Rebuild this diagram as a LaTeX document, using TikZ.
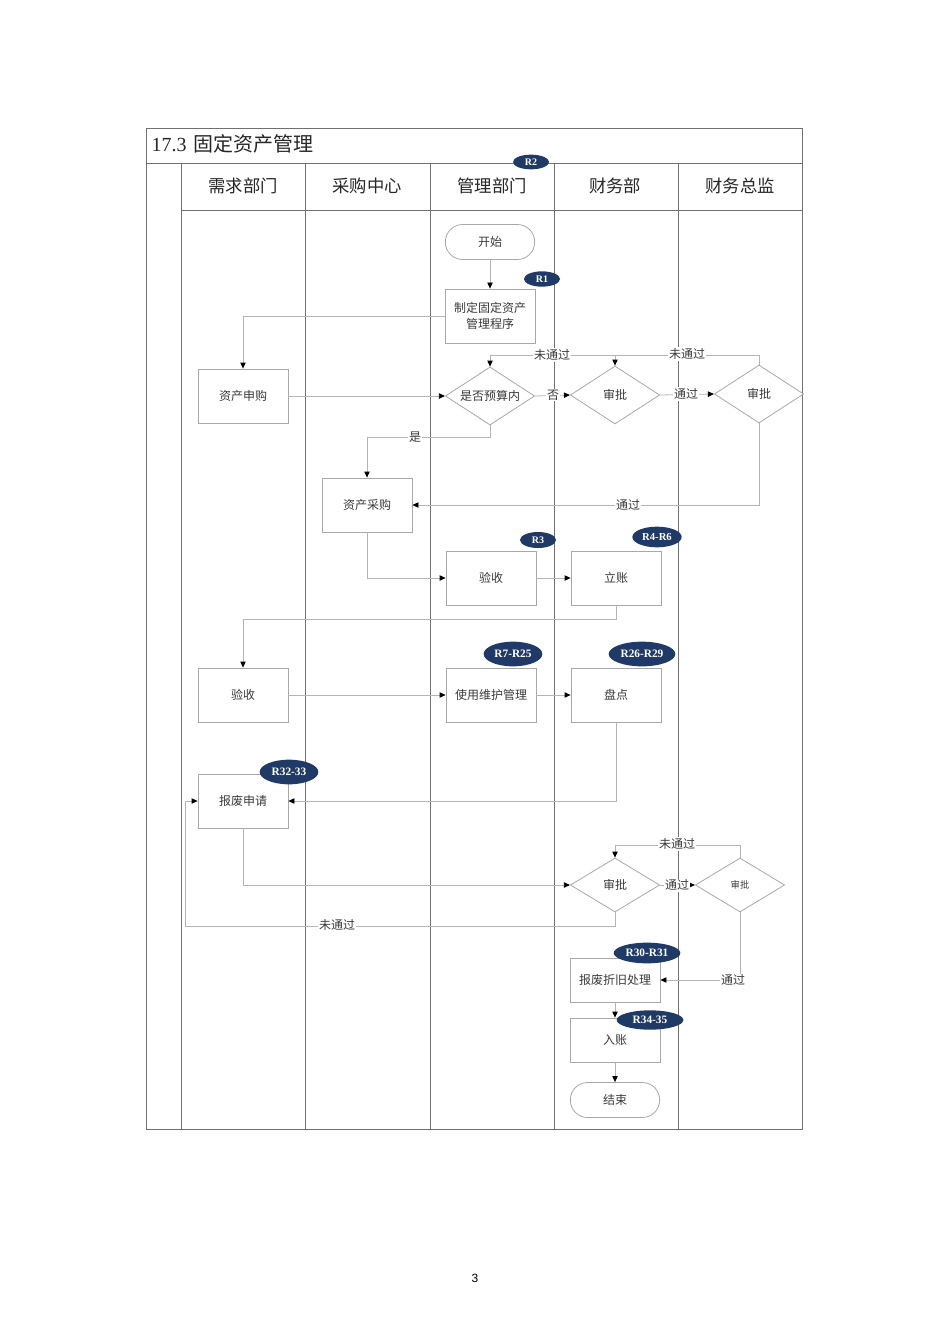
\documentclass[tikz,border=0pt]{standalone}
\usepackage{fontspec}
\setmainfont{Liberation Serif}
\setsansfont{Liberation Sans}
\newfontfamily\cjk{Noto Sans CJK SC}
\usetikzlibrary{shapes.geometric,arrows.meta,calc}
\definecolor{boxc}{HTML}{A8A8A8}
\definecolor{linec}{HTML}{B4B4B4}
\definecolor{lanec}{HTML}{707070}
\definecolor{txtc}{HTML}{3A3A3A}
\definecolor{navy}{HTML}{1F3A66}
\begin{document}
\begin{tikzpicture}[x=0.75pt,y=-0.75pt,
  box/.style={draw=boxc, line width=0.6pt, minimum width=67.5pt, minimum height=40.5pt, inner sep=1pt, font=\cjk\fontsize{9}{12}\selectfont, text=txtc, align=center},
  sbox/.style={box, minimum height=33pt},
  dia/.style={diamond, aspect=1.55, draw=boxc, line width=0.6pt, minimum width=67pt, minimum height=43.5pt, inner sep=0pt, font=\cjk\fontsize{9}{11}\selectfont, text=txtc},
  term/.style={draw=boxc, line width=0.6pt, rounded corners=13pt, minimum width=67pt, minimum height=26.25pt, font=\cjk\fontsize{9}{11}\selectfont, text=txtc},
  badge/.style={ellipse, fill=navy, text=white, inner sep=0pt, font=\bfseries\fontsize{8.5}{9}\selectfont},
  sbadge/.style={badge, font=\bfseries\fontsize{7.5}{8}\selectfont},
  conn/.style={draw=linec, line width=0.6pt},
  arr/.style={conn, -{Triangle[length=4.5pt,width=4pt,color=black]}},
  lbl/.style={fill=white, inner sep=0.8pt, font=\cjk\fontsize{9}{11}\selectfont, text=txtc},
  hdr/.style={font=\cjk\fontsize{13}{15}\selectfont, text=black!85},
  lane/.style={draw=lanec, line width=0.6pt}
]
\useasboundingbox (0,0) rectangle (950,1344);
\fill[white] (0,0) rectangle (950,1344);

% frame and lanes
\draw[lane] (146,128) rectangle (802,1129);
\draw[lane] (146,163) -- (802,163);
\draw[lane] (181,210) -- (802,210);
\foreach \x in {181,305,430,554,678} { \draw[lane] (\x,163) -- (\x,1129); }

\node[anchor=west, font=\fontsize{15}{18}\selectfont, text=black!85] (title) at (147,144) {17.3\,\,{\cjk 固定资产管理}};
\node[hdr] (h1) at (243,186) {需求部门};
\node[hdr] (h2) at (367,186) {采购中心};
\node[hdr] (h3) at (492,186) {管理部门};
\node[hdr] (h4) at (615,186) {财务部};
\node[hdr] (h5) at (740,186) {财务总监};

% nodes
\node[term] (ks) at (490,242) {开始};
\node[box] (zd) at (490,316) {制定固定资产\\管理程序};
\node[box] (sg) at (243,396) {资产申购};
\node[dia] (ys) at (490,396) {是否预算内};
\node[dia] (sp1) at (615,395) {审批};
\node[dia] (sp2) at (759,394) {审批};
\node[box] (cg) at (367,505) {资产采购};
\node[box] (ysb) at (491,578) {验收};
\node[box] (lz) at (616,578) {立账};
\node[box] (ysa) at (243,695) {验收};
\node[box] (sy) at (491,695) {使用维护管理};
\node[box] (pd) at (616,695) {盘点};
\node[box] (bf) at (243,801) {报废申请};
\node[dia, minimum height=40.5pt] (sp3) at (615,885) {审批};
\node[dia, minimum height=40.5pt, font=\cjk\fontsize{7}{8}\selectfont] (sp4) at (740,885) {审批};
\node[sbox] (zj) at (615,980) {报废折旧处理};
\node[sbox] (rz) at (615,1040) {入账};
\node[term] (js) at (615,1100) {结束};

% connectors
\draw[arr] (ks) -- (zd);
\draw[arr] (zd.west) -| (sg.north);
\draw[arr] (sg.east) -- (ys.west);
\draw[arr] (ys.east) -- (sp1.west);
\draw[arr] (sp1.east) -- (sp2.west);
\coordinate (n1) at (615,355);
\draw[arr] (sp2.north) |- (n1) -- (sp1.north);
\draw[arr] (n1) -| (ys.north);
\coordinate (c7) at (490,437);
\draw[arr] (ys.south) -- (c7) -| (cg.north);
\draw[arr] (sp2.south) |- (cg.east);
\draw[arr] (cg.south) |- (ysb.west);
\draw[arr] (ysb.east) -- (lz.west);
\coordinate (c11) at (616,619);
\draw[arr] (lz.south) -- (c11) -| (ysa.north);
\draw[arr] (ysa.east) -- (sy.west);
\draw[arr] (sy.east) -- (pd.west);
\draw[arr] (pd.south) |- (bf.east);
\draw[arr] (bf.south) |- (sp3.west);
\draw[arr] (sp3.east) -- (sp4.west);
\coordinate (n3) at (615,845);
\draw[arr] (sp4.north) |- (n3) -- (sp3.north);
\coordinate (c18a) at (615,926);
\coordinate (c18b) at (185,926);
\draw[arr] (sp3.south) -- (c18a) -- (c18b) |- (bf.west);
\draw[arr] (sp4.south) |- (zj.east);
\draw[arr] (zj) -- (rz);
\draw[arr] (rz) -- (js);

% labels
\node[lbl] (l1) at (552,355) {未通过};
\node[lbl] (l2) at (687,354) {未通过};
\node[lbl] (l3) at (553,395) {否};
\node[lbl] (l4) at (686,394) {通过};
\node[lbl] (l5) at (415,437) {是};
\node[lbl] (l6) at (628,505) {通过};
\node[lbl] (l7) at (677,885) {通过};
\node[lbl] (l8) at (677,844) {未通过};
\node[lbl] (l9) at (337,925) {未通过};
\node[lbl] (l10) at (733,980) {通过};

% badges
\node[sbadge, minimum width=27pt, minimum height=11pt] (b2) at (531,162) {R2};
\node[sbadge, minimum width=27pt, minimum height=11.5pt] (b1) at (542,279) {R1};
\node[sbadge, minimum width=27pt, minimum height=12pt] (b3) at (538,540) {R3};
\node[badge, minimum width=37pt, minimum height=15.5pt, font=\bfseries\fontsize{8}{9}\selectfont] (b4) at (657,537) {R4-R6};
\node[badge, minimum width=44pt, minimum height=18.5pt] (b5) at (513,654) {R7-R25};
\node[badge, minimum width=50pt, minimum height=18.5pt] (b6) at (642,654) {R26-R29};
\node[badge, minimum width=44pt, minimum height=18.5pt] (b7) at (289,772) {R32-33};
\node[badge, minimum width=50pt, minimum height=15.5pt] (b8) at (647,953) {R30-R31};
\node[badge, minimum width=50pt, minimum height=14.5pt] (b9) at (650,1020) {R34-35};

\node[font=\sffamily\fontsize{9}{10}\selectfont] (pg) at (475,1278) {3};
\end{tikzpicture}
\end{document}
